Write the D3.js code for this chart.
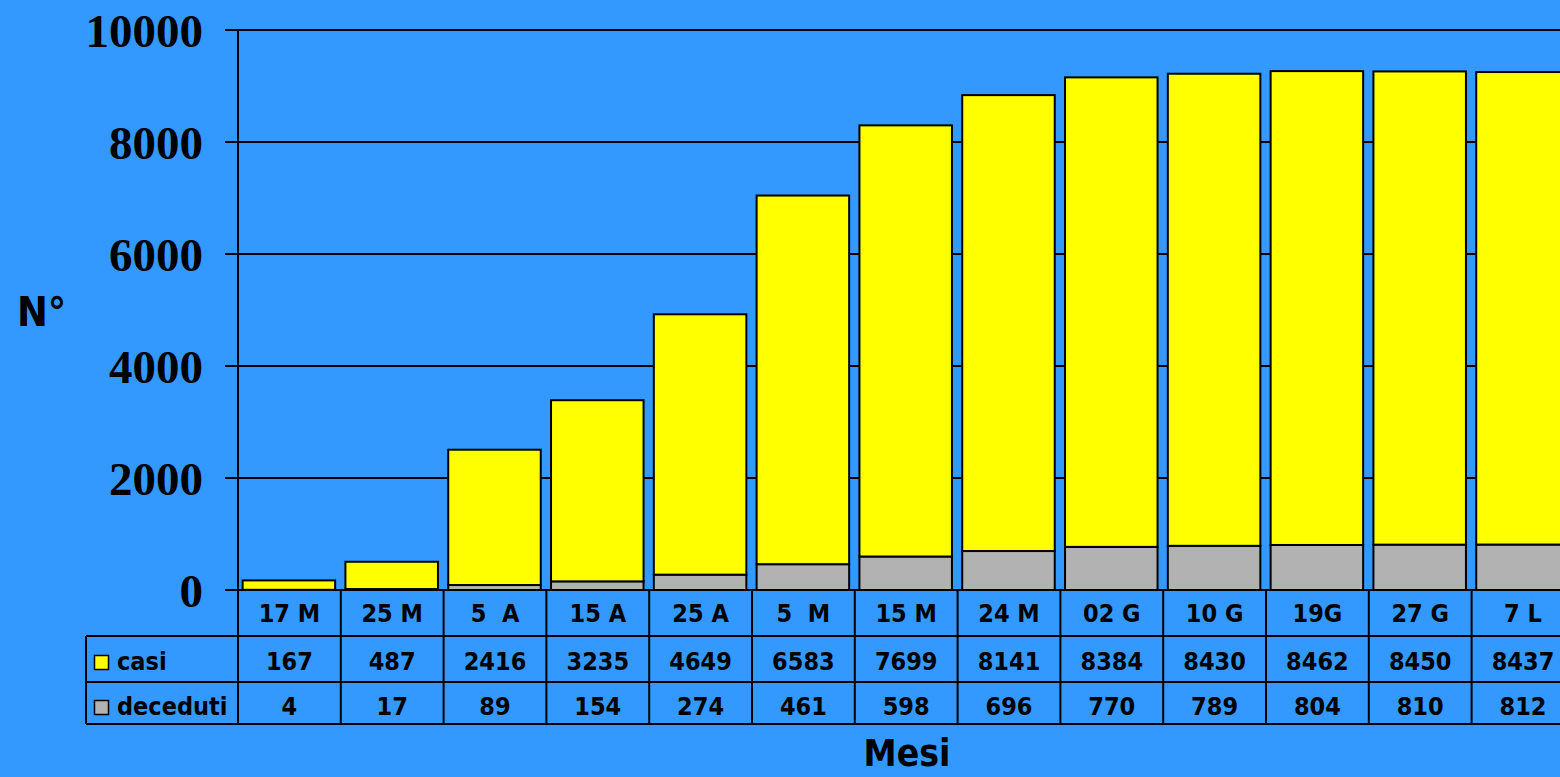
<!DOCTYPE html>
<html><head><meta charset="utf-8">
<script src="https://cdn.jsdelivr.net/npm/d3@7/dist/d3.min.js"></script>
<style>
html,body{margin:0;padding:0;background:#3399ff;overflow:hidden}
svg{display:block}
.sans{font-family:'DejaVu Sans Condensed','DejaVu Sans',Tahoma,sans-serif;font-stretch:condensed;font-weight:bold}
</style></head>
<body>
<svg id="c" width="1560" height="777"></svg>
<script>
const categories = ["17 M","25 M","5  A","15 A","25 A","5  M","15 M","24 M","02 G","10 G","19G","27 G","7 L"];
const casi = [167,487,2416,3235,4649,6583,7699,8141,8384,8430,8462,8450,8437];
const deceduti = [4,17,89,154,274,461,598,696,770,789,804,810,812];
const yTicks = [0,2000,4000,6000,8000,10000];
const seriesNames = ["casi","deceduti"];
const seriesColors = ["#ffff00","#b2b2b2"];

(function(){
const svg = d3.select("#c");
const plotLeft = 238, plotTop = 30, plotBottom = 590, step = 102.8;
const plotRight = plotLeft + step*categories.length;
const x = d3.scaleBand().domain(categories).range([plotLeft, plotRight]).padding(0);
const y = d3.scaleLinear().domain([0,10000]).range([plotBottom, plotTop]);

svg.append("rect").attr("width",1560).attr("height",777).attr("fill","#3399ff");

// gridlines + ticks
svg.append("g").selectAll("line").data(yTicks).join("line")
  .attr("x1", plotLeft-13).attr("x2", 1560)
  .attr("y1", d=>y(d)).attr("y2", d=>y(d))
  .attr("stroke","#000").attr("stroke-width",2);

// y tick labels
svg.append("g").selectAll("text").data(yTicks).join("text")
  .attr("x", 203).attr("y", d=>y(d)+17)
  .attr("text-anchor","end")
  .attr("font-family","'Liberation Serif', 'Times New Roman', serif")
  .attr("font-weight","bold").attr("font-size",47)
  .text(d=>d);

// stacked bars
const data = categories.map((c,i)=>({c, casi:casi[i], deceduti:deceduti[i]}));
const stack = d3.stack().keys(["deceduti","casi"])(data);
const colorOf = {casi:seriesColors[0], deceduti:seriesColors[1]};
const inset = x.bandwidth()*0.045, bw = x.bandwidth()*0.9;
svg.append("g").selectAll("g").data(stack).join("g")
  .attr("fill", s=>colorOf[s.key])
  .selectAll("rect").data(s=>s).join("rect")
  .attr("x", d=>x(d.data.c)+inset)
  .attr("width", bw)
  .attr("y", d=>y(d[1]))
  .attr("height", d=>y(d[0])-y(d[1]))
  .attr("stroke","#000").attr("stroke-width",2);

// baseline
svg.append("line").attr("x1",plotLeft-13).attr("x2",1560).attr("y1",plotBottom).attr("y2",plotBottom)
  .attr("stroke","#000").attr("stroke-width",2);

// data table
const row1 = 636, row2 = 682, row3 = 724, tableLeft = 86;
const tbl = svg.append("g");
const vx = categories.map(c=>x(c)).concat([plotRight]);
tbl.selectAll("line.v").data(vx).join("line").attr("class","v")
  .attr("x1",d=>d).attr("x2",d=>d).attr("y1",d=>d===plotLeft?plotTop:plotBottom).attr("y2",row3)
  .attr("stroke","#000").attr("stroke-width",2);
[row1,row2,row3].forEach(r=>{
  tbl.append("line").attr("x1",tableLeft).attr("x2",1560).attr("y1",r).attr("y2",r)
    .attr("stroke","#000").attr("stroke-width",2);
});
tbl.append("line").attr("x1",tableLeft).attr("x2",tableLeft).attr("y1",row1).attr("y2",row3)
  .attr("stroke","#000").attr("stroke-width",2);

const fs = 25;
tbl.selectAll("text.cat").data(categories).join("text").attr("class","cat sans")
  .attr("x", d=>x(d)+x.bandwidth()/2).attr("y", 622)
  .attr("text-anchor","middle")
  .attr("font-size",fs).style("white-space","pre").text(d=>d);
const rows = [casi, deceduti];
const rowY = [670, 715];
rows.forEach((vals,ri)=>{
  tbl.append("g").selectAll("text").data(vals).join("text").attr("class","sans")
    .attr("x", (d,i)=>x(categories[i])+x.bandwidth()/2).attr("y", rowY[ri])
    .attr("text-anchor","middle")
    .attr("font-size",fs).text(d=>d);
  tbl.append("rect").attr("x",94.5).attr("y",rowY[ri]-14.5).attr("width",14).attr("height",14)
    .attr("fill",seriesColors[ri]).attr("stroke","#000").attr("stroke-width",1.5);
  tbl.append("text").attr("class","sans").attr("x",117).attr("y",rowY[ri])
    .attr("font-size",fs)
    .text(seriesNames[ri]);
});

// axis titles
svg.append("text").attr("class","sans").attr("x",17).attr("y",326)
  .attr("font-size",41).text("N°");
svg.append("text").attr("class","sans").attr("x",907).attr("y",766).attr("text-anchor","middle")
  .attr("font-size",37).text("Mesi");
})();
</script>
</body></html>
